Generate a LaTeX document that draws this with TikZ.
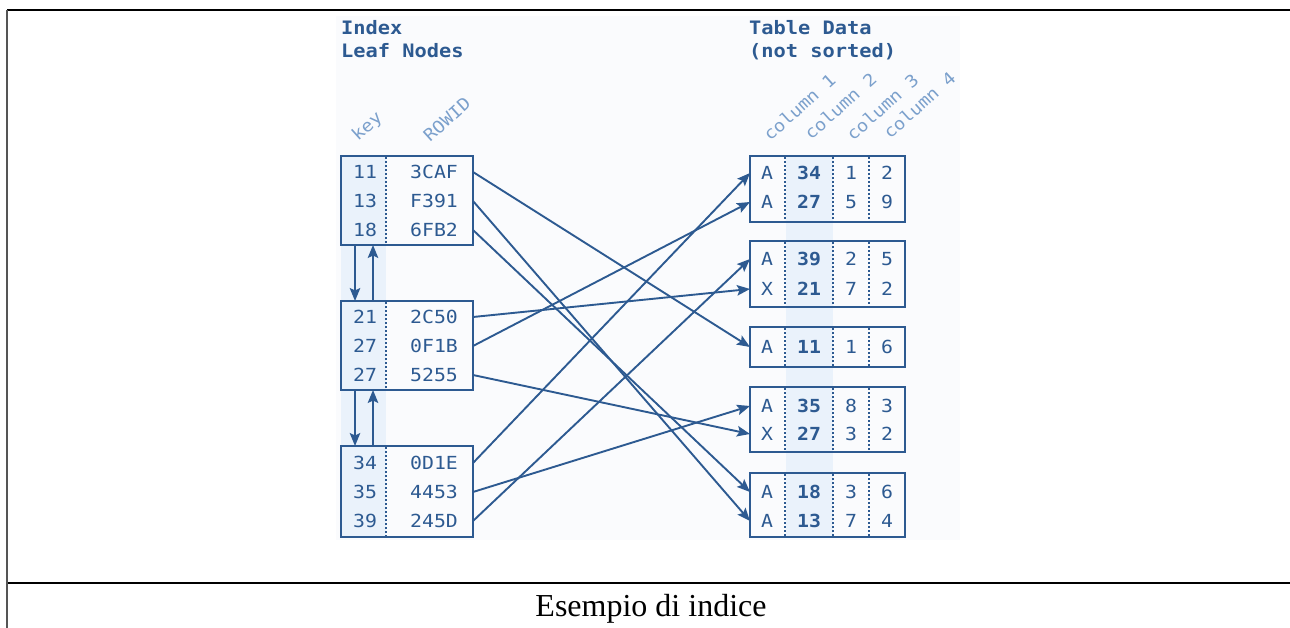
\documentclass[tikz,border=0pt]{standalone}
\usepackage{fontspec}
\setmainfont{Liberation Serif}
\newfontfamily\dmono[FakeStretch=1.1]{DejaVu Sans Mono}
\usetikzlibrary{arrows.meta}
\definecolor{dblue}{HTML}{2D5A91}
\definecolor{ltxt}{HTML}{7BA0CC}
\definecolor{shadecol}{HTML}{EAF2FB}
\definecolor{bgc}{HTML}{FAFBFD}
\definecolor{framegray}{HTML}{555555}
\tikzset{
  box/.style={draw=dblue, line width=1.8pt, inner sep=0pt, outer sep=0pt},
  txt/.style={text=dblue, font=\dmono\fontsize{18}{20}\selectfont, inner sep=0pt},
  btxt/.style={text=dblue, font=\dmono\bfseries\fontsize{18}{20}\selectfont, inner sep=0pt},
  title/.style={text=dblue, font=\dmono\bfseries\fontsize{18.5}{23}\selectfont, inner sep=0pt, anchor=base west},
  rotlbl/.style={text=ltxt, font=\dmono\fontsize{17}{18}\selectfont, inner sep=0pt, anchor=base west, rotate=42},
  sepline/.style={draw=dblue, line width=1.5pt, dash pattern=on 2pt off 2pt},
  conn/.style={draw=dblue, line width=1.9pt, -{Stealth[length=13pt, width=10.5pt, inset=2.5pt]}},
}
\begin{document}
\begin{tikzpicture}[x=1pt, y=-1pt]
\useasboundingbox (0,0) rectangle (1290,628);
\fill[white] (0,0) rectangle (1290,628);
% outer frame
\draw[black, line width=1.5pt] (7,10) -- (1290,10);
\draw[black, line width=1.5pt] (7,583) -- (1290,583);
\draw[framegray, line width=2pt] (7,10) -- (7,628);
% diagram background
\fill[bgc] (336,16) rectangle (960,540);
% shaded columns
\fill[shadecol] (341,156) rectangle (386,537);
\fill[shadecol] (786,156) rectangle (833,537);

% titles
\node[title] (t1) at (341,35) {Index};
\node[title] (t2) at (341,58) {Leaf Nodes};
\node[title] (t3) at (749,35) {Table Data};
\node[title] (t4) at (749,58) {(not sorted)};

% rotated headers
\node[rotlbl] (hk) at (358,142) {key};
\node[rotlbl] (hr) at (430,143) {ROWID};
\node[rotlbl] (h1) at (770,142) {column 1};
\node[rotlbl] (h2) at (811,141) {column 2};
\node[rotlbl] (h3) at (853,142) {column 3};
\node[rotlbl] (h4) at (890,140) {column 4};

% index leaf boxes
\node[box, minimum width=132pt, minimum height=89pt] (ib1) at (407,200.5) {};
\node[box, minimum width=132pt, minimum height=89pt] (ib2) at (407,345.5) {};
\node[box, minimum width=132pt, minimum height=91pt] (ib3) at (407,491.5) {};
\draw[sepline] (386,157) -- (386,245);
\draw[sepline] (386,302) -- (386,390);
\draw[sepline] (386,447) -- (386,537);

\node[txt] (k1) at (365,172) {11}; \node[txt] (i1) at (434,172) {3CAF};
\node[txt] (k2) at (365,201) {13}; \node[txt] (i2) at (434,201) {F391};
\node[txt] (k3) at (365,230) {18}; \node[txt] (i3) at (434,230) {6FB2};
\node[txt] (k4) at (365,317) {21}; \node[txt] (i4) at (434,317) {2C50};
\node[txt] (k5) at (365,346) {27}; \node[txt] (i5) at (434,346) {0F1B};
\node[txt] (k6) at (365,375) {27}; \node[txt] (i6) at (434,375) {5255};
\node[txt] (k7) at (365,463) {34}; \node[txt] (i7) at (434,463) {0D1E};
\node[txt] (k8) at (365,492) {35}; \node[txt] (i8) at (434,492) {4453};
\node[txt] (k9) at (365,521) {39}; \node[txt] (i9) at (434,521) {245D};

% leaf links
\draw[conn] ([xshift=14pt]ib1.south west) -- ([xshift=14pt]ib2.north west);
\draw[conn] ([xshift=32pt]ib2.north west) -- ([xshift=32pt]ib1.south west);
\draw[conn] ([xshift=14pt]ib2.south west) -- ([xshift=14pt]ib3.north west);
\draw[conn] ([xshift=32pt]ib3.north west) -- ([xshift=32pt]ib2.south west);

% table boxes
\node[box, minimum width=155pt, minimum height=66pt] (tA) at (827.5,189) {};
\node[box, minimum width=155pt, minimum height=66pt] (tB) at (827.5,274) {};
\node[box, minimum width=155pt, minimum height=40pt] (tC) at (827.5,347) {};
\node[box, minimum width=155pt, minimum height=65pt] (tD) at (827.5,419.5) {};
\node[box, minimum width=155pt, minimum height=64pt] (tE) at (827.5,505) {};
\foreach \ya/\yb in {157/222, 242/307, 328/367, 388/452, 474/537}{
  \draw[sepline] (785,\ya) -- (785,\yb);
  \draw[sepline] (833,\ya) -- (833,\yb);
  \draw[sepline] (869,\ya) -- (869,\yb);
}

\node[txt] (A1) at (767,173) {A}; \node[btxt] (A1b) at (809,173) {34}; \node[txt] (A1c) at (851,173) {1}; \node[txt] (A1d) at (887,173) {2};
\node[txt] (A2) at (767,202) {A}; \node[btxt] (A2b) at (809,202) {27}; \node[txt] (A2c) at (851,202) {5}; \node[txt] (A2d) at (887,202) {9};
\node[txt] (B1) at (767,259) {A}; \node[btxt] (B1b) at (809,259) {39}; \node[txt] (B1c) at (851,259) {2}; \node[txt] (B1d) at (887,259) {5};
\node[txt] (B2) at (767,289) {X}; \node[btxt] (B2b) at (809,289) {21}; \node[txt] (B2c) at (851,289) {7}; \node[txt] (B2d) at (887,289) {2};
\node[txt] (C1) at (767,347) {A}; \node[btxt] (C1b) at (809,347) {11}; \node[txt] (C1c) at (851,347) {1}; \node[txt] (C1d) at (887,347) {6};
\node[txt] (D1) at (767,406) {A}; \node[btxt] (D1b) at (809,406) {35}; \node[txt] (D1c) at (851,406) {8}; \node[txt] (D1d) at (887,406) {3};
\node[txt] (D2) at (767,434) {X}; \node[btxt] (D2b) at (809,434) {27}; \node[txt] (D2c) at (851,434) {3}; \node[txt] (D2d) at (887,434) {2};
\node[txt] (E1) at (767,492) {A}; \node[btxt] (E1b) at (809,492) {18}; \node[txt] (E1c) at (851,492) {3}; \node[txt] (E1d) at (887,492) {6};
\node[txt] (E2) at (767,521) {A}; \node[btxt] (E2b) at (809,521) {13}; \node[txt] (E2c) at (851,521) {7}; \node[txt] (E2d) at (887,521) {4};

% ROWID connectors
\draw[conn] (ib1.east |- i1) -- (tC.west |- C1);
\draw[conn] (ib1.east |- i2) -- (tE.west |- E2);
\draw[conn] (ib1.east |- i3) -- (tE.west |- E1);
\draw[conn] (ib2.east |- i4) -- (tB.west |- B2);
\draw[conn] (ib2.east |- i5) -- (tA.west |- A2);
\draw[conn] (ib2.east |- i6) -- (tD.west |- D2);
\draw[conn] (ib3.east |- i7) -- (tA.west |- A1);
\draw[conn] (ib3.east |- i8) -- (tD.west |- D1);
\draw[conn] (ib3.east |- i9) -- (tB.west |- B1);

% caption
\node[font=\fontsize{32}{36}\selectfont, inner sep=0pt] (cap) at (651,609) {Esempio di indice};
\end{tikzpicture}
\end{document}
